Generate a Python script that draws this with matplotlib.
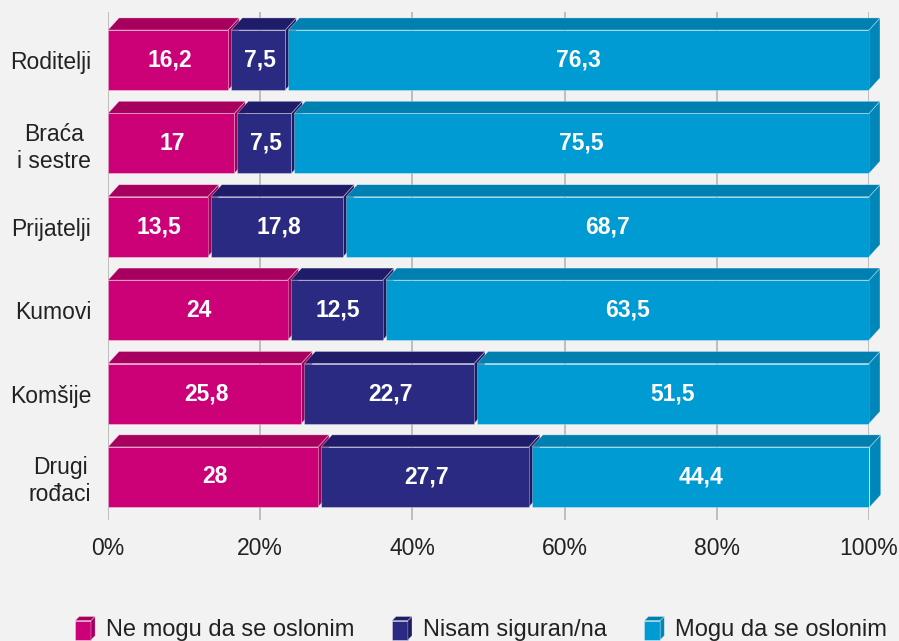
import matplotlib
matplotlib.use('Agg')
from matplotlib import pyplot as plt
from matplotlib.patches import Polygon
from matplotlib.legend_handler import HandlerBase

plt.rcParams['font.family'] = ['Liberation Sans', 'DejaVu Sans']

categories = ['Roditelji', 'Braća\ni sestre', 'Prijatelji', 'Kumovi', 'Komšije', 'Drugi\nrođaci']
ne_mogu = [16.2, 17, 13.5, 24, 25.8, 28]
nisam = [7.5, 7.5, 17.8, 12.5, 22.7, 27.7]
mogu = [76.3, 75.5, 68.7, 63.5, 51.5, 44.4]
labels_ne = ['16,2', '17', '13,5', '24', '25,8', '28']
labels_nisam = ['7,5', '7,5', '17,8', '12,5', '22,7', '27,7']
labels_mogu = ['76,3', '75,5', '68,7', '63,5', '51,5', '44,4']
series_names = ['Ne mogu da se oslonim', 'Nisam siguran/na', 'Mogu da se oslonim']
xticks = [0, 20, 40, 60, 80, 100]
xtick_labels = ['0%', '20%', '40%', '60%', '80%', '100%']

# front, top, side colours per series
colors = [('#cc0077', '#a8005e', '#a0005a'),
          ('#2b2a82', '#1f1c69', '#1c1a60'),
          ('#009bd3', '#0080b0', '#0086b8')]
edge = (1, 1, 1, 0.45)
bg = '#f2f2f2'

bar_h = 0.72
dx = 1.45   # depth offset in % units
dy = 0.145  # depth offset in row units
gap = 0.4   # inner segments stop a little short so their side shows


def box(ax, y, left, width, cols, z, g):
    front, top, sidec = cols
    yt = y - bar_h / 2
    yb = y + bar_h / 2
    right = left + width - g
    ax.add_patch(Polygon([(right, yt), (right + dx, yt - dy), (right + dx, yb - dy), (right, yb)],
                         closed=True, facecolor=sidec, edgecolor=edge, linewidth=0.5,
                         zorder=z, clip_on=False))
    ax.add_patch(Polygon([(left, yt), (left + dx, yt - dy), (right + dx, yt - dy), (right, yt)],
                         closed=True, facecolor=top, edgecolor=edge, linewidth=0.5,
                         zorder=z, clip_on=False))
    ax.barh(y, width - g, left=left, height=bar_h, color=front,
            edgecolor=edge, linewidth=0.5, zorder=z + 0.5)


fig = plt.figure(figsize=(8.99, 6.41), dpi=100, facecolor=bg)
ax = fig.add_axes([0.1201, 0.1888, 0.8465, 0.7925])
ax.set_facecolor(bg)

all_vals = [ne_mogu, nisam, mogu]
all_labels = [labels_ne, labels_nisam, labels_mogu]
for i in range(len(categories)):
    left = 0
    for s in range(3):
        w = all_vals[s][i]
        box(ax, i, left, w, colors[s], 3 + s, gap if s < 2 else 0)
        ax.text(left + w / 2, i, all_labels[s][i], ha='center', va='center',
                color='white', fontsize=16.5, fontweight='bold', zorder=10)
        left += w

ax.set_xlim(0, 100)
ax.set_ylim(5.516, -0.576)
ax.set_xticks(xticks)
ax.set_xticklabels(xtick_labels)
ax.set_yticks(range(len(categories)))
ax.set_yticklabels(categories, multialignment='center')
ax.tick_params(axis='both', length=0, labelsize=16.5, colors='#222222')
ax.tick_params(axis='x', pad=12)
ax.tick_params(axis='y', pad=12)
for sp in ax.spines.values():
    sp.set_visible(False)
ax.grid(axis='x', color='#b4b4b4', linewidth=1.2, zorder=0)
ax.set_axisbelow(True)


class Box3D:
    def __init__(self, cols):
        self.cols = cols


class BoxHandler(HandlerBase):
    def create_artists(self, legend, orig_handle, xdescent, ydescent,
                       width, height, fontsize, trans):
        front, top, sidec = orig_handle.cols
        x0, y0 = -xdescent, -ydescent
        d = 3.0
        w = width - d
        h = height - d
        return [
            Polygon([(x0, y0), (x0 + w, y0), (x0 + w, y0 + h), (x0, y0 + h)],
                    facecolor=front, edgecolor=edge, linewidth=0.5, transform=trans),
            Polygon([(x0, y0 + h), (x0 + d, y0 + h + d), (x0 + w + d, y0 + h + d), (x0 + w, y0 + h)],
                    facecolor=top, edgecolor=edge, linewidth=0.5, transform=trans),
            Polygon([(x0 + w, y0), (x0 + w + d, y0 + d), (x0 + w + d, y0 + h + d), (x0 + w, y0 + h)],
                    facecolor=sidec, edgecolor=edge, linewidth=0.5, transform=trans),
        ]


handles = [Box3D(c) for c in colors]
fig.legend(handles, series_names, handler_map={Box3D: BoxHandler()},
           loc='center', bbox_to_anchor=(0.535, 0.019), ncol=3, frameon=False,
           fontsize=17, handlelength=0.85, handleheight=1.15, handletextpad=0.45,
           columnspacing=1.6, labelcolor='#222222')

fig.savefig('out.png', dpi=100, facecolor=bg)
